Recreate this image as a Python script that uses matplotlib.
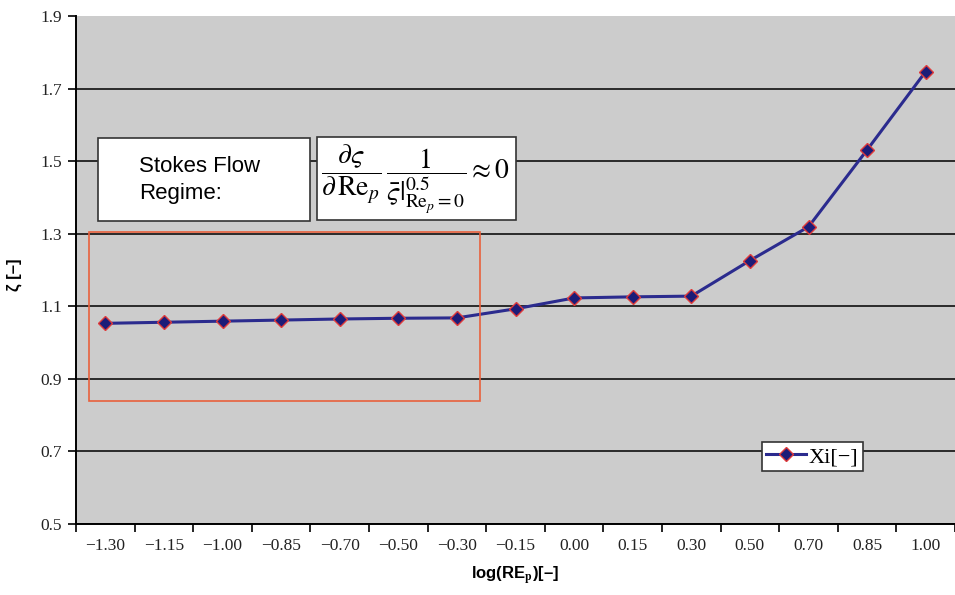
import numpy as np
import matplotlib.pyplot as plt
from matplotlib.patches import Rectangle

# log(Re_p) categories and the measured shape factor
log_rep = ["\u22121.30", "\u22121.15", "\u22121.00", "\u22120.85", "\u22120.70",
           "\u22120.50", "\u22120.30", "\u22120.15", "0.00", "0.15", "0.30",
           "0.50", "0.70", "0.85", "1.00"]
xi = [1.053, 1.056, 1.059, 1.062, 1.065, 1.067, 1.068, 1.093, 1.123,
      1.126, 1.128, 1.226, 1.319, 1.531, 1.747]
y_ticks = [0.5, 0.7, 0.9, 1.1, 1.3, 1.5, 1.7, 1.9]

plt.rcParams['mathtext.fontset'] = 'stix'

fig = plt.figure(figsize=(9.55, 5.95), dpi=100)
ax = fig.add_axes([76 / 955, 1 - 524 / 595, 1 - 76 / 955, (524 - 16) / 595])
ax.set_facecolor('#cccccc')

x = np.arange(len(log_rep))
ax.plot(x, xi, color='#2b2b8e', lw=2.2, marker='D', ms=7,
        markerfacecolor='#1c1c78', markeredgecolor='#e03a3a', mew=1.0,
        label='Xi[\u2212]', zorder=3)

ax.set_xlim(-0.5, len(log_rep) - 0.5)
ax.set_ylim(0.5, 1.9)
ax.set_yticks(y_ticks)
ax.set_yticklabels([f'{v:.1f}' for v in y_ticks], family='Liberation Serif',
                   fontsize=12.5, color='#222222')
ax.set_xticks(x)
ax.set_xticklabels(log_rep, family='Liberation Serif', fontsize=12.5, color='#222222')
# category ticks sit between the points
ax.set_xticks(np.arange(len(log_rep) + 1) - 0.5, minor=True)
ax.tick_params(axis='x', which='major', length=0, pad=10)
ax.tick_params(axis='x', which='minor', length=6, width=1.2, direction='out')
ax.tick_params(axis='y', length=6, width=1.2, direction='out', pad=4)

ax.grid(axis='y', color='#2a2a2a', lw=1.4)
ax.get_ygridlines()[-1].set_visible(False)
ax.set_axisbelow(True)
for side in ('top', 'right'):
    ax.spines[side].set_visible(False)
for side in ('left', 'bottom'):
    ax.spines[side].set_linewidth(1.4)

ax.set_xlabel('log(RE$_\\mathbf{p}$)[\u2013]', family='Liberation Sans',
              fontweight='bold', fontsize=12, labelpad=8)
ax.set_ylabel('\u03b6 [\u2013]', family='Liberation Sans', fontweight='bold', fontsize=12)
ax.yaxis.set_label_coords(-0.061, 0.49)

# region of the Stokes flow regime
ax.add_patch(Rectangle((-0.27, 0.839), 6.66, 0.466, fill=False,
                       edgecolor='#e8603c', lw=1.2, zorder=4))

# annotation boxes
box1 = Rectangle((98 / 955, 1 - 221 / 595), 212 / 955, 83 / 595, transform=fig.transFigure,
                 facecolor='white', edgecolor='#333333', lw=1.2, zorder=5)
box2 = Rectangle((317 / 955, 1 - 220 / 595), 199 / 955, 83 / 595, transform=fig.transFigure,
                 facecolor='white', edgecolor='#333333', lw=1.2, zorder=5)
fig.patches.extend([box1, box2])
fig.text(139 / 955, 1 - 180 / 595, 'Stokes Flow\nRegime:', family='Liberation Sans',
         fontsize=16, ha='left', va='center', linespacing=1.35, zorder=6)
fig.text(416 / 955, 1 - 179 / 595,
         r'$\dfrac{\partial\varsigma}{\partial\,\mathrm{Re}_{p}}\,'
         r'\dfrac{1}{\bar{\varsigma}|^{0.5}_{\mathrm{Re}_p=0}}\approx 0$',
         fontsize=20, ha='center', va='center', zorder=6)

leg = ax.legend(loc='upper left', bbox_to_anchor=(762 / 955, 1 - 442 / 595),
                bbox_transform=fig.transFigure, frameon=True, fancybox=False,
                prop={'family': 'Liberation Serif', 'size': 16},
                handlelength=1.8, handletextpad=0.1, borderpad=0.2,
                borderaxespad=0)
leg.get_frame().set_edgecolor('#333333')
leg.get_frame().set_linewidth(1.2)
leg.get_frame().set_alpha(1)

fig.savefig('out.png', dpi=100)
